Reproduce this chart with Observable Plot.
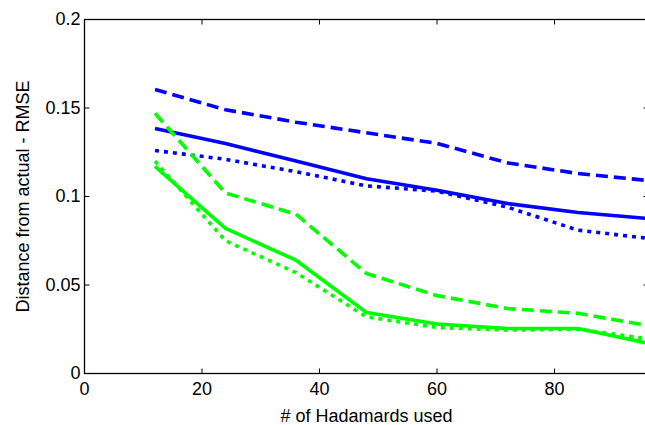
<!DOCTYPE html>
<html>
<head>
<meta charset="utf-8">
<script src="https://cdn.jsdelivr.net/npm/d3@7"></script>
<script src="https://cdn.jsdelivr.net/npm/@observablehq/plot@0.6"></script>
<style>
html, body { margin: 0; padding: 0; overflow: hidden; background: white; }
#chart svg { font-family: "Liberation Sans", Arial, Helvetica, sans-serif; }
</style>
</head>
<body>
<div id="chart"></div>
<script>
const hadamards = [12, 24, 36, 48, 60, 72, 84, 96];

const blueDashed = [0.1605, 0.149, 0.142, 0.136, 0.130, 0.119, 0.113, 0.109];
const blueSolid  = [0.1384, 0.130, 0.120, 0.110, 0.1035, 0.096, 0.091, 0.0875];
const blueDotted = [0.126, 0.121, 0.114, 0.106, 0.103, 0.094, 0.081, 0.0763];
const greenDashed = [0.147, 0.102, 0.090, 0.0565, 0.044, 0.0367, 0.034, 0.027];
const greenSolid  = [0.117, 0.082, 0.064, 0.0345, 0.028, 0.0254, 0.0254, 0.017];
const greenDotted = [0.120, 0.075, 0.057, 0.032, 0.026, 0.0245, 0.025, 0.0195];

const xTicks = [0, 20, 40, 60, 80];
const yTicks = [0, 0.05, 0.1, 0.15, 0.2];
const yTickLabels = ["0", "0.05", "0.1", "0.15", "0.2"];
const xMin = 0, xMax = 96, yMin = 0, yMax = 0.2;

const seriesList = [
  {values: blueDashed, color: "#0000ff", dash: "12,6"},
  {values: blueSolid, color: "#0000ff", dash: null},
  {values: blueDotted, color: "#0000ff", dash: "4,5"},
  {values: greenDashed, color: "#00ff00", dash: "12,6"},
  {values: greenSolid, color: "#00ff00", dash: null},
  {values: greenDotted, color: "#00ff00", dash: "4,5"}
];

const lineMarks = seriesList.map(s =>
  Plot.line(hadamards.map((x, i) => ({x, y: s.values[i]})), {
    x: "x", y: "y", stroke: s.color, strokeWidth: 3.6,
    strokeDasharray: s.dash, strokeLinejoin: "round", strokeLinecap: "butt"
  })
);

// inward tick glyphs (MATLAB-style)
const TL = 5;
const tickSym = (dx, dy) => ({draw(ctx) { ctx.moveTo(0, 0); ctx.lineTo(dx, dy); }});
const tickOpts = {fill: "none", stroke: "black", strokeWidth: 1, r: 3};

const chart = Plot.plot({
  width: 648,
  height: 425,
  marginLeft: 84,
  marginRight: 0,
  marginTop: 19,
  marginBottom: 52,
  style: {maxWidth: "none", fontSize: "18px", background: "white"},
  x: {domain: [xMin, xMax]},
  y: {domain: [yMin, yMax]},
  marks: [
    ...lineMarks,
    Plot.frame({stroke: "black", strokeWidth: 1.3}),
    Plot.dot(xTicks, {x: d => d, y: () => yMin, symbol: tickSym(0, -TL), ...tickOpts}),
    Plot.dot(xTicks, {x: d => d, y: () => yMax, symbol: tickSym(0, TL), ...tickOpts}),
    Plot.dot(yTicks, {y: d => d, x: () => xMin, symbol: tickSym(TL, 0), ...tickOpts}),
    Plot.dot(yTicks, {y: d => d, x: () => xMax, symbol: tickSym(-TL, 0), ...tickOpts}),
    Plot.axisX({anchor: "bottom", ticks: xTicks, tickSize: 0, tickPadding: 9, fontSize: 18, fill: "black",
      label: "# of Hadamards used", labelAnchor: "center", labelArrow: "none", labelOffset: 48}),
    Plot.axisY({anchor: "left", ticks: yTicks, tickSize: 0, tickPadding: 4, fontSize: 18, fill: "black",
      tickFormat: (d, i) => yTickLabels[i],
      label: "Distance from actual - RMSE", labelAnchor: "center", labelArrow: "none", labelOffset: 68})
  ]
});
document.getElementById("chart").appendChild(chart);
</script>
</body>
</html>
